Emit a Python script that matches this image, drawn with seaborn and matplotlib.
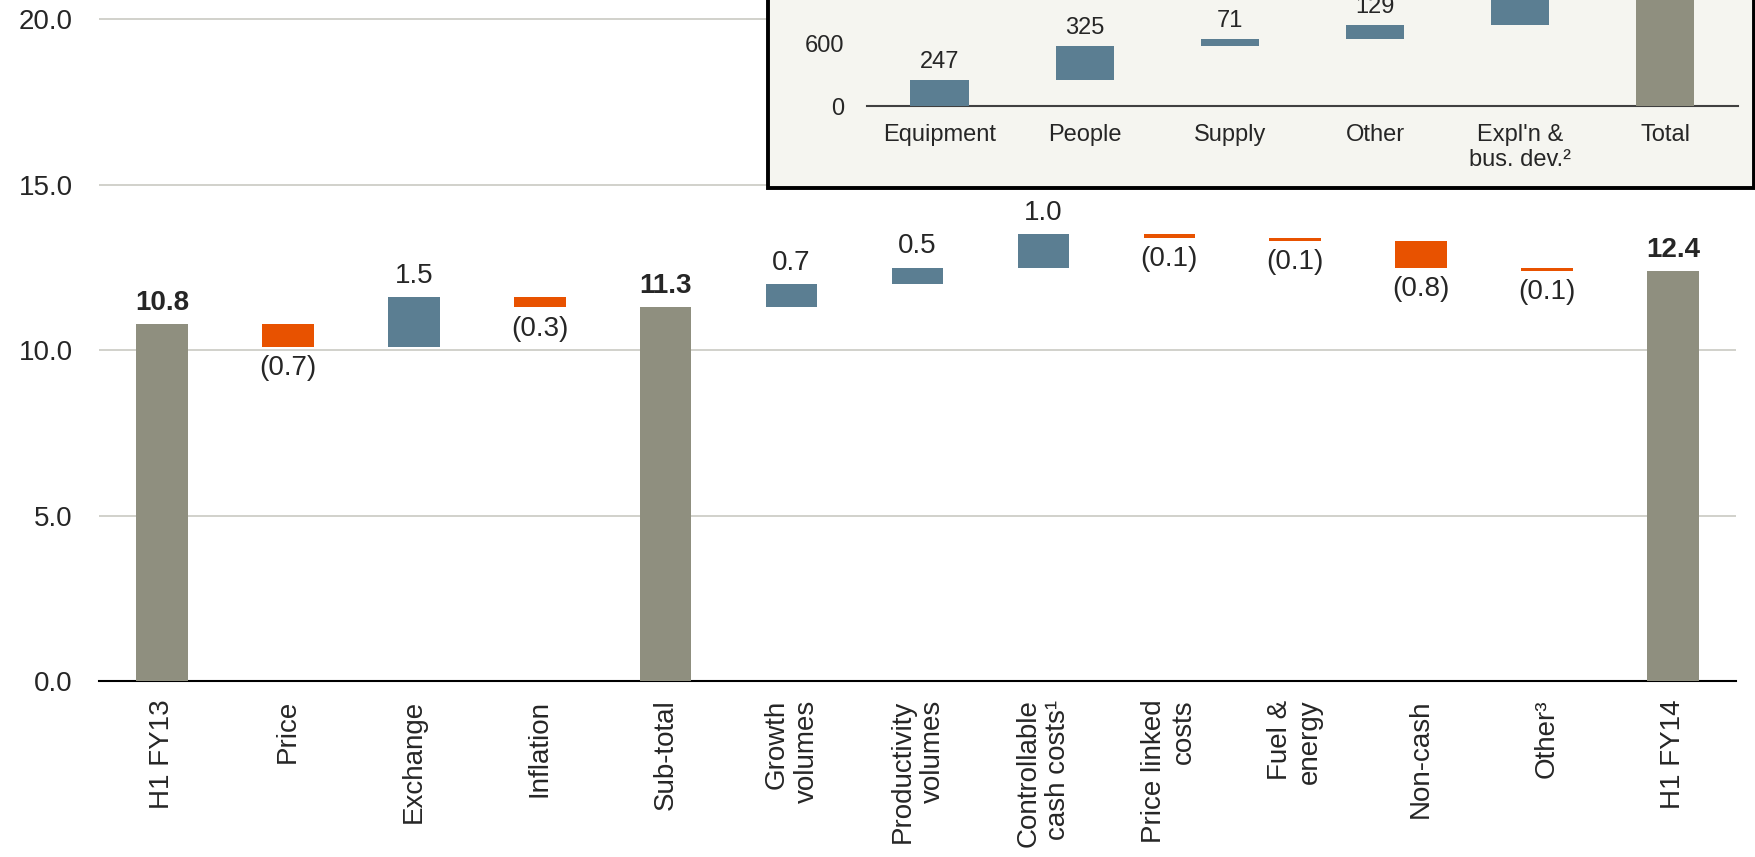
import numpy as np
import pandas as pd
import matplotlib.pyplot as plt
import seaborn as sns
from matplotlib.patches import Rectangle

# main waterfall (US$ bn)
categories = ["H1 FY13", "Price", "Exchange", "Inflation", "Sub-total", "Growth\nvolumes",
              "Productivity\nvolumes", "Controllable\ncash costs¹", "Price linked\ncosts",
              "Fuel &\nenergy", "Non-cash", "Other³", "H1 FY14"]
values = [10.8, -0.7, 1.5, -0.3, 11.3, 0.7, 0.5, 1.0, -0.1, -0.1, -0.8, -0.1, 12.4]
kinds = ["total", "delta", "delta", "delta", "total", "delta", "delta", "delta",
         "delta", "delta", "delta", "delta", "total"]

# inset: controllable cash cost breakdown (US$ m)
inset_categories = ["Equipment", "People", "Supply", "Other", "Expl'n &\nbus. dev.²", "Total"]
inset_values = [247, 325, 71, 129, 270, 1042]
inset_kinds = ["delta", "delta", "delta", "delta", "delta", "total"]

GREY = "#8F8F7F"
BLUE = "#5B7E92"
ORANGE = "#E85200"


def waterfall_frame(cats, vals, kinds):
    level = 0.0
    rows = []
    for c, v, k in zip(cats, vals, kinds):
        if k == "total":
            rows.append((c, 0.0, v, k))
            level = v
        else:
            rows.append((c, level, v, k))
            level += v
    return pd.DataFrame(rows, columns=["category", "bottom", "height", "kind"])


sns.set_theme(style="white")
plt.rcParams["font.family"] = ["Liberation Sans", "DejaVu Sans"]

fig = plt.figure(figsize=(17.56, 8.57), dpi=100)
ax = fig.add_axes([0.0564, 0.2048, 0.9322, 0.7952])

df = waterfall_frame(categories, values, kinds)
df["total_h"] = np.where(df["kind"] == "total", df["height"], np.nan)

sns.barplot(data=df, x="category", y="total_h", order=categories, color=GREY,
            width=0.41, saturation=1, linewidth=0, ax=ax, zorder=3)

xpos = np.arange(len(categories))
deltas = df["kind"] == "delta"
delta_colors = [BLUE if h > 0 else ORANGE for h in df.loc[deltas, "height"]]
ax.bar(xpos[deltas], df.loc[deltas, "height"], bottom=df.loc[deltas, "bottom"],
       width=0.41, color=delta_colors, linewidth=0, zorder=3)

for i, row in df.iterrows():
    top = row["bottom"] + row["height"]
    if row["kind"] == "total":
        ax.annotate(f"{row['height']:.1f}", (i, top), xytext=(0, 6), textcoords="offset points",
                    ha="center", va="bottom", fontsize=20, fontweight="bold")
    elif row["height"] > 0:
        ax.annotate(f"{row['height']:.1f}", (i, top), xytext=(0, 6), textcoords="offset points",
                    ha="center", va="bottom", fontsize=20)
    else:
        ax.annotate(f"({-row['height']:.1f})", (i, top), xytext=(0, -6), textcoords="offset points",
                    ha="center", va="top", fontsize=20)

ax.set_xlim(-0.5, 12.5)
ax.set_ylim(0, 20.58)
ax.set_yticks([0, 5, 10, 15, 20])
ax.set_yticklabels(["0.0", "5.0", "10.0", "15.0", "20.0"])
ax.yaxis.grid(True, color="#CACAC2", lw=1.2, zorder=0)
ax.set_axisbelow(True)
for s in ["left", "right", "top"]:
    ax.spines[s].set_visible(False)
ax.spines["bottom"].set_color("black")
ax.spines["bottom"].set_linewidth(1.5)
ax.tick_params(axis="y", length=0, pad=19, labelsize=20)
ax.tick_params(axis="x", length=0, pad=13, labelsize=20)
ax.set_xticks(xpos)
ax.set_xticklabels(categories, rotation=90, ha="center", va="top", multialignment="right")
ax.set_xlabel("")
ax.set_ylabel("")

# inset box
box = Rectangle((0.4374, 0.7806), 0.5615, 0.4, transform=fig.transFigure,
                facecolor="#F5F5F0", edgecolor="black", lw=2.8, zorder=1)
fig.patches.append(box)

iax = fig.add_axes([0.4937, 0.8763, 0.4960, 0.1237], zorder=2)
iax.patch.set_alpha(0)
idf = waterfall_frame(inset_categories, inset_values, inset_kinds)
ipos = np.arange(len(inset_categories))
icolors = [GREY if k == "total" else BLUE for k in idf["kind"]]
iax.bar(ipos, idf["height"], bottom=idf["bottom"], width=0.4, color=icolors,
        linewidth=0, zorder=3)
for i, row in idf.iterrows():
    # labels whose bar runs off the top of the slide are not drawn
    iax.annotate(f"{row['height']:.0f}", (i, row["bottom"] + row["height"]), xytext=(0, 5),
                 textcoords="offset points", ha="center", va="bottom", fontsize=17)
iax.set_xlim(-0.5, 5.5)
iax.set_ylim(0, 1010)
iax.set_yticks([0, 600])
iax.set_yticklabels(["0", "600"])
iax.set_xticks(ipos)
iax.set_xticklabels(inset_categories, multialignment="center")
for s in ["left", "right", "top"]:
    iax.spines[s].set_visible(False)
iax.spines["bottom"].set_color("#404040")
iax.spines["bottom"].set_linewidth(1.5)
iax.tick_params(axis="y", length=0, pad=16, labelsize=17)
iax.tick_params(axis="x", length=0, pad=13, labelsize=17)
iax.grid(False)

fig.savefig("out.png", dpi=100)
